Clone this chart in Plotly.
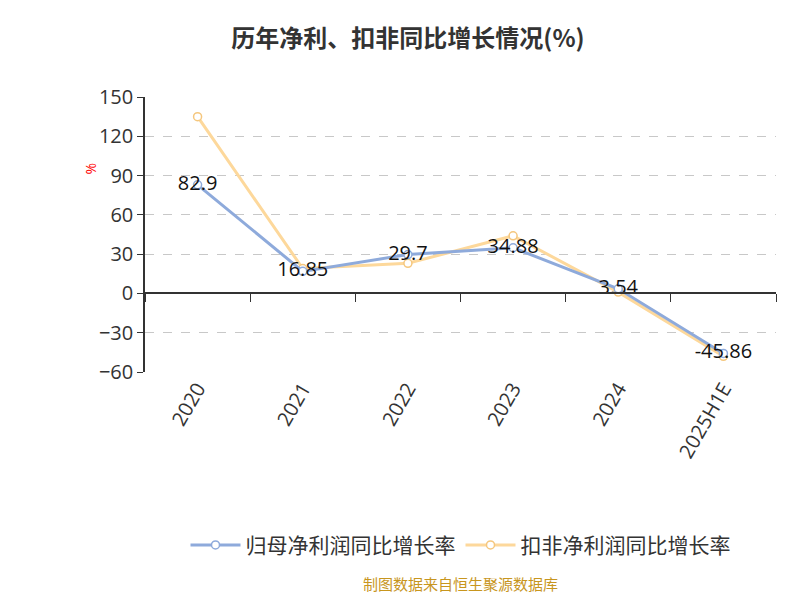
import plotly.graph_objects as go

years = ["2020", "2021", "2022", "2023", "2024", "2025H1E"]
net_profit = [82.9, 16.85, 29.7, 34.88, 3.54, -45.86]
deducted = [135, 19, 23, 44, 1, -48]
labels = ["82.9", "16.85", "29.7", "34.88", "3.54", "-45.86"]

font = "Open Sans, Noto Sans CJK SC"
fig = go.Figure()
fig.add_trace(go.Scatter(
    x=years, y=deducted, name="扣非净利润同比增长率", mode="lines+markers",
    line=dict(color="#fdd89b", width=3),
    marker=dict(symbol="circle", size=8, color="white", line=dict(color="#f5c77e", width=1.5))))
fig.add_trace(go.Scatter(
    x=years, y=net_profit, name="归母净利润同比增长率", mode="lines+markers+text",
    text=labels, textposition="middle center", textfont=dict(size=20, color="#111"),
    line=dict(color="#8eaadb", width=3),
    marker=dict(symbol="circle", size=8, color="white", line=dict(color="#8eaadb", width=1.5))))
fig.add_trace(go.Scatter(x=years, y=[None] * 6, xaxis="x2", showlegend=False, hoverinfo="skip"))

fig.update_layout(
    width=800, height=600, plot_bgcolor="white", paper_bgcolor="white",
    margin=dict(l=137, r=32, t=89, b=236, autoexpand=False),
    font=dict(family=font, size=20, color="#333"),
    title=dict(text="<b>历年净利、扣非同比增长情况(%)</b>", x=0.5, y=0.963, xanchor="center",
               font=dict(size=24, color="#333", family="Noto Sans CJK SC")),
    xaxis=dict(type="category", range=[-0.5, 5.5], tickangle=-60, showline=False,
               showgrid=False, zeroline=False, ticks="", tickfont=dict(size=20),
               automargin=False),
    xaxis2=dict(type="category", range=[-0.5, 5.5], overlaying="x", anchor="free",
                position=60 / 210, showline=True, linecolor="#333", linewidth=1.5,
                ticks="outside", ticklen=8, tickcolor="#333", tickson="boundaries",
                showticklabels=False, showgrid=False, side="bottom", automargin=False),
    yaxis=dict(range=[-60, 150], tickvals=[-60, -30, 0, 30, 60, 90, 120, 150],
               showgrid=True, gridcolor="#c8c8c8", griddash="dash", zeroline=False,
               showline=True, linecolor="#333", linewidth=1.5, ticks="outside",
               ticklen=6, tickcolor="#333", tickfont=dict(size=20), automargin=False),
    legend=dict(orientation="h", x=0.5, xanchor="center", y=-0.63, yanchor="middle",
                traceorder="reversed", itemwidth=50,
                font=dict(size=21, color="#333", family="Noto Sans CJK SC")),
    showlegend=True,
)
fig.add_annotation(text="%", xref="paper", yref="paper", x=-0.105, y=0.77, showarrow=False,
                   textangle=-90, font=dict(size=14, color="red"))
fig.add_annotation(text="制图数据来自恒生聚源数据库", xref="paper", yref="paper", x=0.5, y=-0.815,
                   showarrow=False, font=dict(size=15, color="#c8961e", family="Noto Sans CJK SC"))
fig.write_html("out.html")
